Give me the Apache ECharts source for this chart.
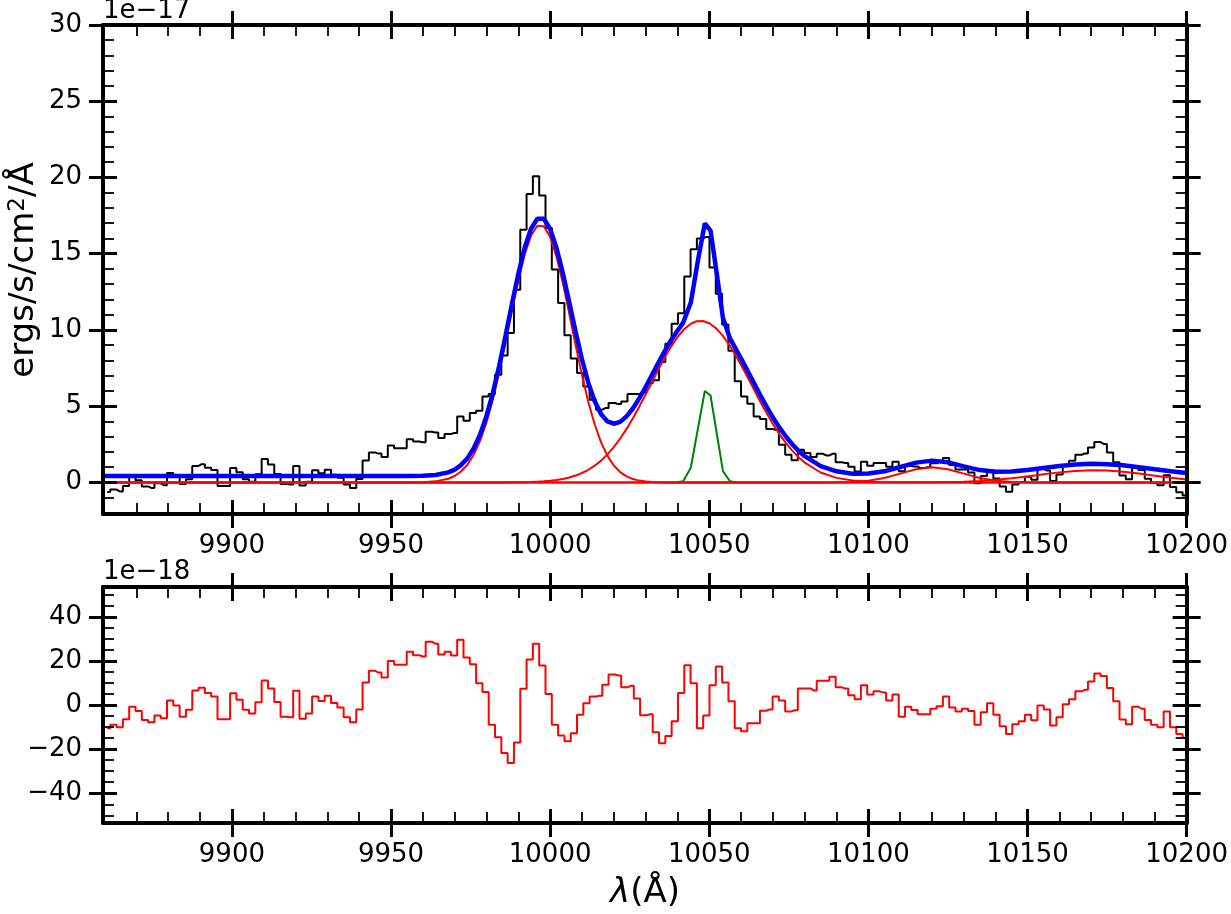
<!DOCTYPE html>
<html>
<head>
<meta charset="utf-8">
<script src="https://cdn.jsdelivr.net/npm/echarts@6/dist/echarts.min.js"></script>
<style>
  html, body { margin: 0; padding: 0; background: #fff; }
  #chart { width: 1231px; height: 914px; }
</style>
</head>
<body>
<div id="chart"></div>
<script>
const FONT = 'DejaVu Sans';

// spectrum bins: left edge of first bin and bin width (Angstrom)
const binStart = 9859.8;
const binWidth = 1.982;

// observed flux, units of 1e-17
const flux = [
  -0.63, -0.47, -0.59, -0.23, 0.35, 0.15, -0.26, -0.36, -0.06, -0.18,
  0.62, 0.40, -0.11, 0.21, 1.08, 1.20, 0.96, 0.81, -0.23, -0.23,
  0.95, 0.66, 0.21, 0.04, 0.54, 1.53, 1.17, 0.56, -0.11, -0.14,
  1.07, -0.20, 0.04, 0.80, 0.60, 0.84, 0.51, 0.31, -0.14, -0.36,
  0.22, 1.44, 1.97, 1.89, 1.67, 2.42, 2.25, 2.25, 2.83, 2.68,
  2.64, 3.32, 3.27, 2.91, 3.17, 3.24, 4.33, 4.05, 4.55, 4.70,
  5.64, 5.80, 7.07, 8.33, 9.80, 12.64, 16.58, 18.92, 20.08, 18.81,
  16.69, 13.96, 11.77, 9.65, 8.12, 7.18, 6.30, 5.43, 4.77, 4.88,
  5.21, 5.14, 5.30, 5.80, 5.80, 5.90, 6.50, 6.70, 7.90, 9.10,
  10.40, 11.10, 13.50, 15.30, 16.00, 16.10, 14.10, 12.38, 10.35, 8.64,
  6.63, 5.64, 5.16, 4.33, 4.16, 3.50, 3.46, 2.47, 1.82, 1.45,
  2.15, 1.93, 1.67, 1.88, 1.77, 1.88, 1.32, 1.28, 1.03, 0.72,
  1.36, 1.10, 1.28, 1.28, 1.03, 1.36, 0.74, 1.08, 1.04, 0.94,
  1.00, 1.26, 1.35, 1.60, 1.14, 0.85, 0.85, 0.65, -0.06, 0.43,
  0.80, 0.25, -0.27, -0.61, -0.13, 0.03, 0.38, 0.18, 0.91, 0.78,
  0.10, 0.52, 1.15, 1.42, 1.81, 1.90, 2.29, 2.65, 2.52, 1.96,
  1.33, 0.46, 0.21, 0.96, 0.81, 0.24, -0.02, -0.19, 0.47, -0.30,
  -0.64, -0.86
];

// residuals, units of 1e-18
const resid = [
  -10.5, -8.9, -10.1, -6.5, -0.8, -2.7, -6.8, -7.8, -4.8, -6.0,
  2.0, -0.2, -5.3, -2.1, 6.6, 7.8, 5.4, 3.9, -6.5, -6.5,
  5.3, 2.4, -2.1, -3.8, 1.2, 11.1, 7.5, 1.4, -5.3, -5.6,
  6.5, -6.2, -3.8, 3.8, 1.8, 4.2, 0.9, -1.1, -5.6, -7.8,
  -2.0, 10.2, 15.5, 14.7, 12.5, 20.0, 18.3, 18.3, 24.1, 22.6,
  22.0, 28.7, 27.8, 22.9, 24.1, 22.4, 29.6, 21.5, 18.5, 9.9,
  5.9, -8.9, -14.6, -21.8, -26.3, -17.0, 7.4, 20.6, 27.8, 17.9,
  5.0, -8.9, -13.8, -16.4, -12.8, -4.4, 0.8, 3.8, 4.2, 9.2,
  13.8, 13.4, 8.0, 8.7, 2.9, -4.7, -4.2, -12.3, -17.3, -14.1,
  -7.4, 5.4, 18.0, 9.9, -10.5, -4.8, 8.9, 17.4, 10.2, 1.7,
  -10.5, -11.9, -8.3, -8.3, -2.6, -2.0, 3.8, 2.0, -2.9, -2.4,
  7.5, 7.5, 6.6, 11.0, 11.0, 12.8, 8.0, 7.5, 4.4, 2.6,
  8.9, 4.8, 6.2, 5.7, 2.0, 4.8, -5.3, -0.8, -2.3, -4.2,
  -4.2, -1.7, -0.6, 3.8, -1.1, -2.9, -1.7, -2.7, -8.9, -3.3,
  0.8, -4.4, -9.6, -13.2, -8.7, -7.4, -4.4, -6.9, -0.2, -2.0,
  -9.3, -5.6, 0.3, 2.6, 6.2, 6.9, 10.7, 14.3, 13.1, 7.7,
  1.7, -6.6, -8.7, -0.8, -1.7, -6.8, -8.9, -10.1, -2.9, -10.1,
  -13.1, -14.9
];

// fitted components (red), sampled on compWave
const compWave = [
  9860, 9900, 9940, 9950, 9955, 9960, 9964,
  9968, 9970, 9972, 9974, 9976, 9978, 9980, 9982, 9984, 9986,
  9988, 9990, 9992, 9994, 9996, 9998, 10000, 10002, 10004, 10006,
  10008, 10010, 10012, 10014, 10016, 10018, 10020, 10022, 10024, 10026,
  10028, 10030, 10032, 10034, 10036, 10038, 10040, 10042, 10044, 10046,
  10048, 10050, 10052, 10054, 10056, 10058, 10060, 10062, 10064, 10066,
  10068, 10070, 10072, 10074, 10076, 10078, 10080,
  10085, 10090, 10095, 10100, 10105, 10110, 10115, 10120, 10125, 10130,
  10135, 10140, 10145, 10150, 10155, 10160, 10165, 10170, 10175, 10180,
  10185, 10190, 10195, 10200
];
const comp1 = [
  0, 0, 0, 0, 0, 0.02, 0.07,
  0.24, 0.42, 0.72, 1.16, 1.82, 2.73, 3.94, 5.44, 7.23, 9.22,
  11.28, 13.25, 14.95, 16.19, 16.83, 16.80, 16.09, 14.80, 13.07, 11.08,
  9.01, 7.04, 5.28, 3.80, 2.63, 1.74, 1.11, 0.68, 0.40, 0.22,
  0.12, 0.06, 0.03, 0.01, 0, 0, 0, 0, 0, 0,
  0, 0, 0, 0, 0, 0, 0, 0, 0, 0,
  0, 0, 0, 0, 0, 0, 0,
  0, 0, 0, 0, 0, 0, 0, 0, 0, 0,
  0, 0, 0, 0, 0, 0, 0, 0, 0, 0,
  0, 0, 0, 0
];
const comp2 = [
  0, 0, 0, 0, 0, 0, 0,
  0, 0, 0, 0, 0, 0, 0, 0, 0, 0,
  0.01, 0.01, 0.02, 0.03, 0.05, 0.07, 0.11, 0.16, 0.23, 0.32,
  0.45, 0.62, 0.83, 1.10, 1.43, 1.84, 2.32, 2.87, 3.51, 4.21,
  4.97, 5.77, 6.59, 7.41, 8.19, 8.91, 9.53, 10.03, 10.38, 10.57,
  10.59, 10.44, 10.13, 9.69, 9.11, 8.44, 7.70, 6.91, 6.11, 5.31,
  4.55, 3.84, 3.19, 2.61, 2.10, 1.66, 1.30,
  0.65, 0.30, 0.12, 0.05, 0.02, 0.01, 0, 0, 0, 0,
  0, 0, 0, 0, 0, 0, 0, 0, 0, 0,
  0, 0, 0, 0
];
const comp3 = [
  0, 0, 0, 0, 0, 0, 0,
  0, 0, 0, 0, 0, 0, 0, 0, 0, 0,
  0, 0, 0, 0, 0, 0, 0, 0, 0, 0,
  0, 0, 0, 0, 0, 0, 0, 0, 0, 0,
  0, 0, 0, 0, 0, 0, 0, 0, 0, 0,
  0, 0, 0, 0, 0, 0, 0, 0, 0, 0,
  0, 0, 0, 0, 0, 0, 0,
  0, 0.01, 0.03, 0.11, 0.29, 0.58, 0.87, 1.00, 0.87, 0.58,
  0.29, 0.11, 0.03, 0.01, 0, 0, 0, 0, 0, 0,
  0, 0, 0, 0
];
const comp4 = [
  0, 0, 0, 0, 0, 0, 0,
  0, 0, 0, 0, 0, 0, 0, 0, 0, 0,
  0, 0, 0, 0, 0, 0, 0, 0, 0, 0,
  0, 0, 0, 0, 0, 0, 0, 0, 0, 0,
  0, 0, 0, 0, 0, 0, 0, 0, 0, 0,
  0, 0, 0, 0, 0, 0, 0, 0, 0, 0,
  0, 0, 0, 0, 0, 0, 0,
  0, 0, 0, 0, 0, 0, 0.01, 0.01, 0.03, 0.05,
  0.10, 0.17, 0.27, 0.39, 0.53, 0.66, 0.75, 0.80, 0.78, 0.70,
  0.58, 0.44, 0.31, 0.20
];

// narrow component (green)
const narrowWave = [10039.6, 10041.8, 10044.2, 10048.6, 10050.4, 10054.3, 10056.5, 10058.7];
const narrowFlux = [0, 0.08, 0.97, 6.00, 5.70, 0.74, 0.08, 0];

// total model (blue)
const modelWave = [
  9860, 9900, 9940, 9950, 9955, 9960, 9964,
  9968, 9970, 9972, 9974, 9976, 9978, 9980, 9982, 9984, 9986,
  9988, 9990, 9992, 9994, 9996, 9998, 10000, 10002, 10004, 10006,
  10008, 10010, 10012, 10014, 10016, 10018, 10020, 10022, 10024, 10026,
  10028, 10030, 10032, 10034, 10036, 10038, 10040, 10041.8, 10044.2, 10046.4,
  10048.6, 10050.4, 10052.4, 10054.3, 10056.5, 10058.6, 10060, 10062, 10064, 10066,
  10068, 10070, 10072, 10074, 10076, 10078, 10080,
  10085, 10090, 10095, 10100, 10105, 10110, 10115, 10120, 10125, 10130,
  10135, 10140, 10145, 10150, 10155, 10160, 10165, 10170, 10175, 10180,
  10185, 10190, 10195, 10200
];
const modelFlux = [
  0.42, 0.42, 0.42, 0.42, 0.42, 0.44, 0.49,
  0.66, 0.84, 1.14, 1.58, 2.24, 3.15, 4.36, 5.86, 7.65, 9.64,
  11.71, 13.68, 15.39, 16.64, 17.30, 17.29, 16.62, 15.38, 13.72, 11.82,
  9.88, 8.08, 6.53, 5.32, 4.48, 4.00, 3.85, 3.97, 4.33, 4.85,
  5.51, 6.25, 7.04, 7.84, 8.61, 9.33, 9.95, 10.48, 11.80, 14.51,
  16.98, 16.51, 13.64, 10.77, 9.45, 8.64, 8.12, 7.33, 6.53, 5.73,
  4.97, 4.26, 3.61, 3.03, 2.52, 2.08, 1.72,
  1.07, 0.73, 0.57, 0.58, 0.73, 1.01, 1.30, 1.43, 1.32, 1.05,
  0.81, 0.70, 0.72, 0.82, 0.95, 1.08, 1.17, 1.22, 1.20, 1.12,
  1.00, 0.86, 0.73, 0.62
];

const xTicks = [9900, 9950, 10000, 10050, 10100, 10150, 10200];
const fluxTicks = [0, 5, 10, 15, 20, 25, 30];
const residTicks = [-40, -20, 0, 20, 40];

const xMin = 9859.5, xMax = 10200;
const fluxMin = -2.07, fluxMax = 30;
const residMin = -53.5, residMax = 53.5;

function stepsOf(from, to, step) {
  const out = [];
  for (let v = from; v <= to + 1e-9; v += step) {
    out.push(Math.round(v * 100) / 100);
  }
  return out;
}
const xMinorTicks = stepsOf(9870, 10190, 10);
const fluxMinorTicks = stepsOf(-2, 30, 1);
const residMinorTicks = stepsOf(-50, 50, 5);

const binCentre = flux.map(function (_, i) { return binStart + binWidth * (i + 0.5); });
const pairs = function (xs, ys) { return xs.map(function (x, i) { return [x, ys[i]]; }); };

function fmt(v) {
  return String(v).replace('-', '\u2212');
}

// one side of a frame: outward major ticks (+labels), inward major ticks, inward minor ticks
function sideAxes(gridIndex, position, min, max, majors, minors, showLabels, margin) {
  const base = {
    type: 'value', gridIndex: gridIndex, position: position, min: min, max: max,
    splitLine: { show: false }, z: 10
  };
  return [
    Object.assign({}, base, {
      axisLine: { show: true, onZero: false, lineStyle: { color: '#000', width: 4 } },
      axisTick: { show: true, inside: false, length: 14, customValues: majors, lineStyle: { color: '#000', width: 3 } },
      axisLabel: {
        show: showLabels, customValues: majors, margin: margin, color: '#000',
        fontFamily: FONT, fontSize: 26, formatter: fmt
      }
    }),
    Object.assign({}, base, {
      axisLine: { show: false, onZero: false },
      axisTick: { show: true, inside: true, length: 14, customValues: majors, lineStyle: { color: '#000', width: 3 } },
      axisLabel: { show: false }
    }),
    Object.assign({}, base, {
      axisLine: { show: false, onZero: false },
      axisTick: { show: true, inside: true, length: 11, customValues: minors, lineStyle: { color: '#000', width: 1.8 } },
      axisLabel: { show: false }
    })
  ];
}

const xAxes = [].concat(
  sideAxes(0, 'bottom', xMin, xMax, xTicks, xMinorTicks, true, 19),
  sideAxes(0, 'top', xMin, xMax, xTicks, xMinorTicks, false, 0),
  sideAxes(1, 'bottom', xMin, xMax, xTicks, xMinorTicks, true, 19),
  sideAxes(1, 'top', xMin, xMax, xTicks, xMinorTicks, false, 0)
);
const yAxes = [].concat(
  sideAxes(0, 'left', fluxMin, fluxMax, fluxTicks, fluxMinorTicks, true, 21),
  sideAxes(0, 'right', fluxMin, fluxMax, fluxTicks, fluxMinorTicks, false, 0),
  sideAxes(1, 'left', residMin, residMax, residTicks, residMinorTicks, true, 21),
  sideAxes(1, 'right', residMin, residMax, residTicks, residMinorTicks, false, 0)
);

function line(data, color, width, z, extra) {
  return Object.assign({
    type: 'line', data: data, xAxisIndex: 0, yAxisIndex: 0, showSymbol: false, symbol: 'none',
    lineStyle: { color: color, width: width }, z: z, silent: true
  }, extra || {});
}

const series = [
  line(pairs(binCentre, flux), '#000000', 2, 2, { step: 'middle' }),
  line(pairs(narrowWave, narrowFlux), '#008000', 2, 3),
  line(pairs(compWave, comp1), '#ff0000', 2, 4),
  line(pairs(compWave, comp2), '#ff0000', 2, 4),
  line(pairs(compWave, comp3), '#ff0000', 2, 4),
  line(pairs(compWave, comp4), '#ff0000', 2, 4),
  line(pairs(modelWave, modelFlux), '#0000ff', 4.5, 5),
  line(pairs(binCentre, resid), '#ff0000', 2, 2, { step: 'middle', xAxisIndex: 6, yAxisIndex: 6 })
];

const chart = echarts.init(document.getElementById('chart'), null, { renderer: 'canvas' });
chart.setOption({
  animation: false,
  backgroundColor: '#ffffff',
  textStyle: { fontFamily: FONT },
  grid: [
    { left: 103, top: 25, width: 1084, height: 489, containLabel: false },
    { left: 103, top: 587, width: 1084, height: 236, containLabel: false }
  ],
  xAxis: xAxes,
  yAxis: yAxes,
  series: series,
  graphic: [
    {
      type: 'text', x: 103, y: 11,
      style: { text: '1e\u221217', fontSize: 26, fontFamily: FONT, fill: '#000', textVerticalAlign: 'middle', verticalAlign: 'middle' }
    },
    {
      type: 'text', x: 103, y: 572,
      style: { text: '1e\u221218', fontSize: 26, fontFamily: FONT, fill: '#000', textVerticalAlign: 'middle', verticalAlign: 'middle' }
    },
    {
      type: 'text', x: 24, y: 270, rotation: Math.PI / 2,
      style: {
        text: 'ergs/s/cm{sup|2}/\u00c5', fontSize: 34, fontFamily: FONT, fill: '#000',
        textAlign: 'center', align: 'center', textVerticalAlign: 'middle', verticalAlign: 'middle',
        rich: { sup: { fontSize: 23, fontFamily: FONT, verticalAlign: 'top', fill: '#000' } }
      }
    },
    {
      type: 'text', x: 645, y: 893,
      style: {
        text: '{i|\u03bb}(\u00c5)', fontSize: 34, fontFamily: FONT, fill: '#000',
        textAlign: 'center', align: 'center', textVerticalAlign: 'middle', verticalAlign: 'middle',
        rich: { i: { fontStyle: 'italic', fontSize: 34, fontFamily: FONT, fill: '#000' } }
      }
    }
  ]
});
</script>
</body>
</html>
